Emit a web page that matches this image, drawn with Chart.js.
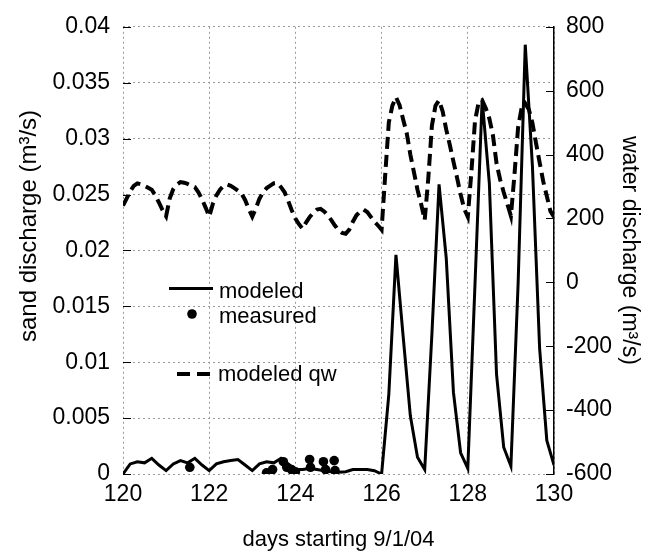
<!DOCTYPE html>
<html>
<head>
<meta charset="utf-8">
<script src="https://cdn.jsdelivr.net/npm/chart.js@4/dist/chart.umd.min.js"></script>
<style>
html,body{margin:0;padding:0;background:#fff;}
#wrap{width:646px;height:554px;}
</style>
</head>
<body>
<div id="wrap"><canvas id="c" width="646" height="554"></canvas></div>
<script>
// ---------- data ----------
const sandDays = [
  120, 120.167, 120.333, 120.5, 120.667, 120.833,
  121, 121.167, 121.333, 121.5, 121.667, 121.833,
  122, 122.167, 122.333, 122.5, 122.667, 122.833,
  123, 123.167, 123.333, 123.5, 123.667, 123.833,
  124, 124.167, 124.333, 124.5, 124.667, 124.833,
  125, 125.167, 125.333, 125.5, 125.667, 125.833,
  126, 126.167, 126.333, 126.5, 126.667, 126.833,
  127, 127.167, 127.333, 127.5, 127.667, 127.833,
  128, 128.167, 128.333, 128.5, 128.667, 128.833,
  129, 129.167, 129.333, 129.5, 129.667, 129.833,
  130
];
const sandModeled = [
  0.0000, 0.0009, 0.0011, 0.0010, 0.0014, 0.0008,
  0.0003, 0.0009, 0.0012, 0.0010, 0.0014, 0.0008,
  0.0003, 0.0009, 0.0011, 0.0012, 0.0013, 0.0008,
  0.0003, 0.0009, 0.0011, 0.0010, 0.0014, 0.0009,
  0.0004, 0.0004, 0.0005, 0.0004, 0.0003, 0.0002,
  0.00015, 0.0002, 0.0004, 0.0004, 0.0004, 0.0003,
  0.0000, 0.0071, 0.0196, 0.0123, 0.0052, 0.0015,
  0.0004, 0.0125, 0.0259, 0.0193, 0.0073, 0.0019,
  0.0005, 0.0170, 0.0335, 0.0260, 0.0089, 0.0024,
  0.0007, 0.0170, 0.0384, 0.0275, 0.0112, 0.0030,
  0.0008
];

const measuredDays = [121.55, 123.33, 123.47, 123.72, 123.80, 123.91, 124.0, 124.33, 124.35, 124.65, 124.70, 124.90, 124.92];
const measuredSand = [0.0006, 0.0001, 0.0004, 0.0011, 0.0006, 0.0004, 0.0002, 0.0013, 0.0006, 0.0011, 0.0004, 0.0012, 0.0003];

const waterDays = [
  120, 120.083, 120.167, 120.25, 120.333, 120.417, 120.5, 120.583, 120.667, 120.75, 120.833, 120.917,
  121, 121.083, 121.167, 121.25, 121.333, 121.417, 121.5, 121.583, 121.667, 121.75, 121.833, 121.917,
  122, 122.083, 122.167, 122.25, 122.333, 122.417, 122.5, 122.583, 122.667, 122.75, 122.833, 122.917,
  123, 123.083, 123.167, 123.25, 123.333, 123.417, 123.5, 123.583, 123.667, 123.75, 123.833, 123.917,
  124, 124.083, 124.167, 124.25, 124.333, 124.417, 124.5, 124.583, 124.667, 124.75, 124.833, 124.917,
  125, 125.083, 125.167, 125.25, 125.333, 125.417, 125.5, 125.583, 125.667, 125.75, 125.833, 125.917,
  126, 126.083, 126.167, 126.25, 126.333, 126.417, 126.5, 126.583, 126.667, 126.75, 126.833, 126.917,
  127, 127.083, 127.167, 127.25, 127.333, 127.417, 127.5, 127.583, 127.667, 127.75, 127.833, 127.917,
  128, 128.083, 128.167, 128.25, 128.333, 128.417, 128.5, 128.583, 128.667, 128.75, 128.833, 128.917,
  129, 129.083, 129.167, 129.25, 129.333, 129.417, 129.5, 129.583, 129.667, 129.75, 129.833, 129.917,
  130
];
const waterModeled = [
  240, 262, 285, 302, 310, 307, 302, 296, 290, 272, 250, 226,
  207, 262, 292, 306, 314, 312, 308, 303, 298, 282, 260, 234,
  206, 245, 272, 290, 302, 306, 302, 295, 287, 278, 258, 230,
  206, 232, 262, 282, 295, 303, 310, 311, 298, 282, 255, 225,
  200, 182, 168, 188, 205, 218, 228, 230, 222, 210, 195, 178,
  163, 155, 152, 165, 190, 210, 222, 228, 220, 205, 190, 178,
  165, 335, 500, 553, 580, 555, 510, 467, 400, 345, 290, 245,
  195, 325, 490, 553, 570, 535, 478, 430, 378, 328, 276, 230,
  205, 345, 505, 562, 570, 545, 513, 460, 372, 322, 282, 245,
  208, 337, 485, 547, 560, 541, 498, 436, 375, 316, 270, 223,
  205
];

const dayTicks = [120, 122, 124, 126, 128, 130];
const sandTicks = [0, 0.005, 0.01, 0.015, 0.02, 0.025, 0.03, 0.035, 0.04];
const waterTicks = [-600, -400, -200, 0, 200, 400, 600, 800];

const seriesNames = ['modeled', 'measured', 'modeled qw'];
const xTitle = 'days starting 9/1/04';
const yTitle = 'sand discharge (m\u00B3/s)';
const y2Title = 'water discharge (m\u00B3/s)';

// ---------- chart ----------
const FONT = "'Liberation Sans', Arial, Helvetica, sans-serif";
const TICK_FS = 23;
const TITLE_FS = 23;
const LEG_FS = 22;
Chart.defaults.font.family = FONT;
Chart.defaults.font.size = TICK_FS;
Chart.defaults.color = '#000';

const GRID = '#9a9a9a';
const DOTS = [2, 3];

const toPts = (xs, ys) => xs.map((x, i) => ({x: x, y: ys[i]}));

const overlay = {
  id: 'overlay',
  afterDraw(chart) {
    const {ctx, chartArea: a, scales} = chart;
    ctx.save();
    ctx.strokeStyle = '#000';
    ctx.lineWidth = 1;
    ctx.setLineDash([]);
    scales.y.ticks.forEach(t => {
      const py = Math.round(scales.y.getPixelForValue(t.value)) + 0.5;
      ctx.beginPath(); ctx.moveTo(a.left, py); ctx.lineTo(a.left + 8, py); ctx.stroke();
    });
    scales.y2.ticks.forEach(t => {
      const py = Math.round(scales.y2.getPixelForValue(t.value)) + 0.5;
      ctx.beginPath(); ctx.moveTo(a.right - 8, py); ctx.lineTo(a.right, py); ctx.stroke();
    });

    // left axis title (sits a little above the axis centre in the reference)
    ctx.save();
    ctx.font = '24px ' + FONT;
    ctx.fillStyle = '#000';
    ctx.textAlign = 'center';
    ctx.textBaseline = 'middle';
    ctx.translate(29, 226);
    ctx.rotate(-Math.PI / 2);
    ctx.fillText(yTitle, 0, 0);
    ctx.restore();

    // legend inside the plot
    ctx.font = LEG_FS + 'px ' + FONT;
    ctx.fillStyle = '#000';
    ctx.textAlign = 'left';
    ctx.textBaseline = 'alphabetic';
    ctx.lineWidth = 3;
    ctx.beginPath(); ctx.moveTo(169, 288.5); ctx.lineTo(213, 288.5); ctx.stroke();
    ctx.fillText(seriesNames[0], 219, 298);
    ctx.beginPath(); ctx.arc(192, 314, 4.8, 0, Math.PI * 2); ctx.fill();
    ctx.fillText(seriesNames[1], 219, 323);
    ctx.lineWidth = 4;
    ctx.setLineDash([13, 7]);
    ctx.beginPath(); ctx.moveTo(177, 374); ctx.lineTo(212, 374); ctx.stroke();
    ctx.setLineDash([]);
    ctx.fillText(seriesNames[2], 218, 381);
    ctx.restore();
  }
};

new Chart(document.getElementById('c'), {
  type: 'scatter',
  data: {
    datasets: [
      {
        label: seriesNames[0],
        data: toPts(sandDays, sandModeled),
        showLine: true,
        borderColor: '#000',
        borderWidth: 3,
        pointRadius: 0,
        tension: 0,
        yAxisID: 'y',
        borderJoinStyle: 'miter'
      },
      {
        label: seriesNames[1],
        data: toPts(measuredDays, measuredSand),
        showLine: false,
        pointRadius: 4.8,
        pointBackgroundColor: '#000',
        pointBorderWidth: 0,
        yAxisID: 'y'
      },
      {
        label: seriesNames[2],
        data: toPts(waterDays, waterModeled),
        showLine: true,
        borderColor: '#000',
        borderWidth: 4,
        borderDash: [12, 6],
        pointRadius: 0,
        tension: 0,
        yAxisID: 'y2'
      }
    ]
  },
  options: {
    responsive: false,
    animation: false,
    devicePixelRatio: 1,
    layout: {padding: {top: 20, left: 0, right: 0, bottom: 0}},
    plugins: {legend: {display: false}, tooltip: {enabled: false}},
    scales: {
      x: {
        type: 'linear', position: 'bottom', min: 120, max: 130,
        afterBuildTicks: s => { s.ticks = dayTicks.map(v => ({value: v})); },
        afterFit: s => { s.height = 80; },
        ticks: {padding: 7, maxRotation: 0, callback: v => String(v)},
        grid: {color: GRID, lineWidth: 1, drawTicks: false},
        border: {display: false, dash: DOTS},
        title: {display: true, text: xTitle, font: {size: 22}, padding: {top: 0, bottom: 1}}
      },
      y: {
        type: 'linear', position: 'left', min: 0, max: 0.04,
        afterBuildTicks: s => { s.ticks = sandTicks.map(v => ({value: v})); },
        afterFit: s => { s.width = 123; },
        ticks: {padding: 13, callback: v => String(v)},
        grid: {color: GRID, lineWidth: 1, drawTicks: false},
        border: {display: false, dash: DOTS},
        title: {display: false, text: yTitle}
      },
      y2: {
        type: 'linear', position: 'right', min: -600, max: 800,
        afterBuildTicks: s => { s.ticks = waterTicks.map(v => ({value: v})); },
        afterFit: s => { s.width = 92; },
        ticks: {padding: 12, callback: v => String(v)},
        grid: {drawOnChartArea: false, drawTicks: false},
        border: {display: true, color: '#000', width: 1.5},
        title: {display: true, text: y2Title, font: {size: TITLE_FS}, padding: {top: 3, bottom: 0}}
      }
    }
  },
  plugins: [overlay]
});
</script>
</body>
</html>
